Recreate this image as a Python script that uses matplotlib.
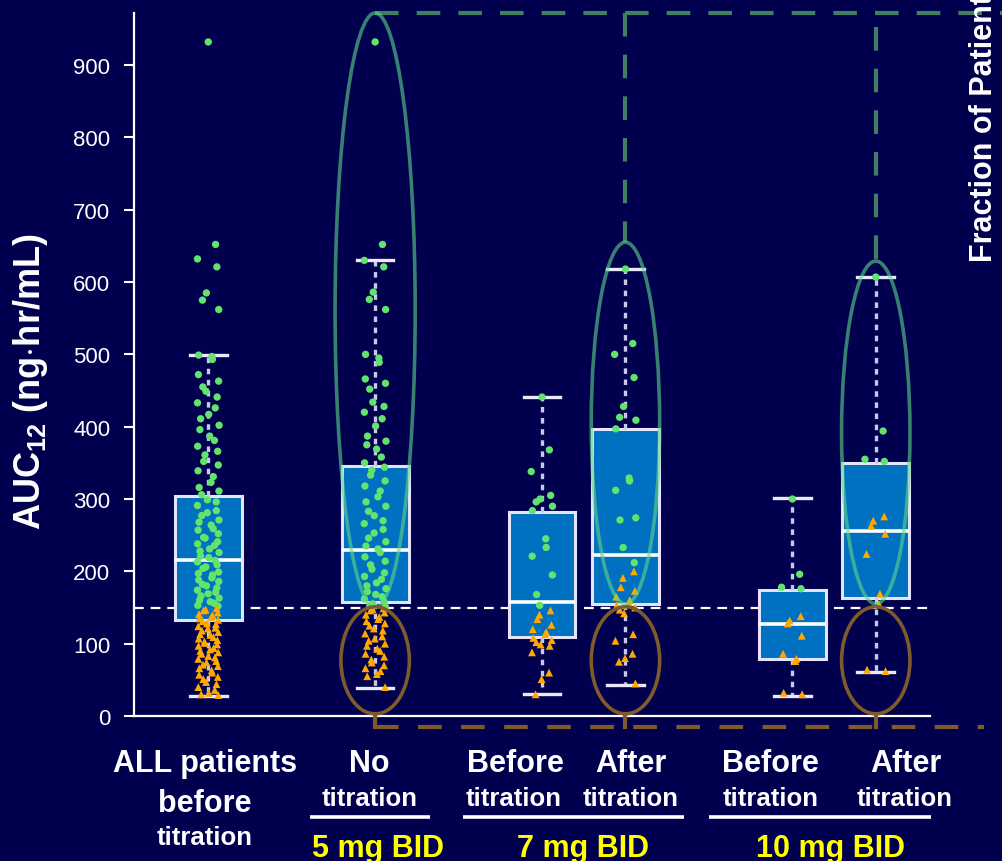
import numpy as np
import matplotlib
matplotlib.use("Agg")
import matplotlib.pyplot as plt
import matplotlib.transforms as mtransforms
from matplotlib.patches import Ellipse

# ---- data ----
groups = ["ALL", "No titration", "7 Before", "7 After", "10 Before", "10 After"]
positions = [0, 2, 4, 5, 7, 8]

box_lo = [28, 39, 30, 43, 28, 61]
box_q1 = [133, 157, 109, 155, 79, 163]
box_med = [216, 229, 157, 223, 127, 256]
box_q3 = [304, 346, 282, 397, 174, 350]
box_hi = [499, 630, 441, 618, 301, 607]

green_all = [932, 652, 632, 621, 585, 575, 562, 499, 497, 493, 472, 463, 455, 449, 441,
             433, 426, 417, 411, 402, 396, 387, 381, 373, 366, 361, 352, 347, 339, 331,
             323, 316, 311, 306, 299, 296, 291, 284, 281, 277, 271, 268, 264, 259, 257,
             252, 247, 246, 241, 238, 236, 231, 228, 226, 221, 219, 215, 213, 209, 206,
             204, 199, 197, 195, 191, 188, 186, 182, 180, 177, 174, 171, 169, 166, 163,
             160, 158, 156, 153, 152]
orange_all = [149, 147, 146, 143, 141, 139, 137, 135, 133, 131, 128, 127, 124, 122, 121,
              118, 116, 113, 112, 109, 107, 105, 103, 101, 99, 97, 94, 92, 90, 88, 86,
              83, 81, 79, 76, 74, 71, 69, 66, 63, 60, 57, 54, 51, 47, 44, 40, 36, 32, 30, 29]

green_not = [932, 652, 630, 621, 586, 576, 562, 500, 495, 489, 466, 460, 452, 434, 428,
             420, 411, 401, 387, 380, 375, 369, 358, 350, 344, 340, 333, 325, 318, 311,
             303, 296, 290, 283, 277, 270, 266, 258, 253, 246, 241, 235, 231, 226, 220,
             214, 209, 203, 198, 193, 189, 184, 180, 176, 172, 168, 165, 162, 158, 155,
             152, 151]
orange_not = [149, 148, 146, 143, 140, 137, 134, 131, 128, 125, 121, 118, 114, 110, 107,
              104, 100, 97, 93, 90, 86, 82, 78, 74, 70, 66, 62, 58, 55, 40]

green_7b = [441, 368, 338, 305, 300, 296, 290, 284, 245, 233, 221, 195, 168, 153]
orange_7b = [146, 140, 134, 126, 120, 116, 113, 108, 105, 102, 99, 97, 88, 60, 51, 30]

green_7a = [618, 515, 500, 468, 428, 413, 409, 397, 329, 325, 312, 274, 271, 233, 212]
orange_7a = [200, 191, 178, 173, 165, 160, 156, 153, 150, 147, 142, 113, 104, 86, 80, 75, 45]

green_10b = [300, 196, 178, 176]
orange_10b = [138, 132, 128, 111, 86, 79, 76, 32, 30]

green_10a = [607, 394, 355, 352]
orange_10a = [276, 270, 263, 252, 224, 169, 155, 64, 62]

greens = [green_all, green_not, green_7b, green_7a, green_10b, green_10a]
oranges = [orange_all, orange_not, orange_7b, orange_7a, orange_10b, orange_10a]

threshold = 150
yticks = [0, 100, 200, 300, 400, 500, 600, 700, 800, 900]

main_labels = ["ALL patients\nbefore", "No", "Before", "After", "Before", "After"]
sub_label = "titration"
dose_labels = ["5 mg BID", "7 mg BID", "10 mg BID"]

# ---- style ----
bg = "#00004f"
green_pt = "#62e46c"
orange_pt = "#ffa800"
box_blue = "#0070c0"
ell_green = "#5fd88a"
ell_brown = "#7e5a2c"
dash_green = "#3f7f62"

plt.rcParams["font.family"] = ["Liberation Sans", "DejaVu Sans"]
plt.rcParams["mathtext.fontset"] = "custom"
plt.rcParams["mathtext.rm"] = "Liberation Sans:bold"
plt.rcParams["mathtext.bf"] = "Liberation Sans:bold"
plt.rcParams["lines.scale_dashes"] = False

W, H = 1003, 862
fig = plt.figure(figsize=(W / 100, H / 100), dpi=100, facecolor=bg)
ax = fig.add_axes([134 / W, (H - 717) / H, (930 - 134) / W, (717 - 14) / H])
ax.set_facecolor(bg)
ax.set_xlim(-0.89, 8.65)
ax.set_ylim(0, 972)

# threshold line
ax.axhline(threshold, color="white", lw=1.6, dashes=(7, 5), zorder=1)

# boxes
stats = []
for i in range(len(groups)):
    stats.append(dict(med=box_med[i], q1=box_q1[i], q3=box_q3[i],
                      whislo=box_lo[i], whishi=box_hi[i], fliers=[]))
ax.bxp(stats, positions=positions, widths=0.8, patch_artist=True,
       showfliers=False, manage_ticks=False, capwidths=0.44,
       boxprops=dict(facecolor=box_blue, edgecolor="#e4e4ff", lw=2.2),
       medianprops=dict(color="white", lw=2.6),
       whiskerprops=dict(color="#c8c8ea", lw=2.4, dashes=(4, 4)),
       capprops=dict(color="#e8e8ff", lw=2.4), zorder=2)

# jittered points
for pos, g, o in zip(positions, greens, oranges):
    jg = 0.13 * np.sin(np.arange(len(g)) * 2.39996)
    jo = 0.12 * np.sin(np.arange(len(o)) * 2.39996 + 1.0)
    ax.scatter(pos + jg, g, s=28, color=green_pt, edgecolors="none", zorder=4)
    ax.scatter(pos + jo, o, s=32, marker="^", color=orange_pt, edgecolors="none", zorder=4)

# ellipses highlighting the subsets
green_ells = [(2, 561, 0.96, 822), (5, 405, 0.82, 500), (8, 392, 0.82, 474)]
for cx, cy, w, h in green_ells:
    ax.add_patch(Ellipse((cx, cy), w, h, fill=False, ec=ell_green, lw=2.6,
                         alpha=0.6, zorder=5, clip_on=False))
for cx in [2, 5, 8]:
    ax.add_patch(Ellipse((cx, 77), 0.82, 148, fill=False, ec=ell_brown, lw=2.6,
                         zorder=5, clip_on=False))

# connector dashed lines to the right-hand panel
ax.plot([2, 9.6], [972, 972], color=dash_green, lw=3, dashes=(17, 13), clip_on=False, zorder=3)
ax.plot([5, 5], [972, 655], color=dash_green, lw=3, dashes=(17, 13), clip_on=False, zorder=3)
ax.plot([8, 8], [952, 629], color=dash_green, lw=3, dashes=(17, 13), clip_on=False, zorder=3)
ax.plot([2, 9.3], [-15, -15], color=ell_brown, lw=3, dashes=(17, 14), clip_on=False, zorder=3)
for cx in [2, 5, 8]:
    ax.plot([cx, cx], [3, -15], color=ell_brown, lw=3, clip_on=False, zorder=3)

# axes styling
for s in ["top", "right"]:
    ax.spines[s].set_visible(False)
for s in ["left", "bottom"]:
    ax.spines[s].set_color("white")
    ax.spines[s].set_linewidth(1.6)
ax.set_xticks([])
ax.set_yticks(yticks)
ax.tick_params(axis="y", colors="white", length=7, width=1.5, pad=10, labelsize=16)

fig.text(31 / W, 1 - 382 / H, r"AUC$_{12}$ (ng$\cdot$hr/mL)", rotation=90, ha="center",
         va="center", color="white", fontsize=26, fontweight="bold")
fig.text(984 / W, 1 - 262 / H, "Fraction of Patients", rotation=90, ha="center",
         va="bottom", color="white", fontsize=22, fontweight="bold")

# category labels under the axis
tr = mtransforms.blended_transform_factory(ax.transData, fig.transFigure)
main_x = [-0.04, 1.93, 3.68, 5.07, 6.74, 8.36]
sub_x = [-0.04, 1.93, 3.66, 5.06, 6.74, 8.35]
for i in range(len(groups)):
    if i == 0:
        ax.text(main_x[i], 1 - 772 / H, "ALL patients", transform=tr, ha="center",
                va="baseline", color="white", fontsize=22, fontweight="bold")
        ax.text(main_x[i], 1 - 812 / H, "before", transform=tr, ha="center",
                va="baseline", color="white", fontsize=22, fontweight="bold")
        ax.text(sub_x[i], 1 - 845 / H, sub_label, transform=tr, ha="center",
                va="baseline", color="white", fontsize=18.5, fontweight="bold")
    else:
        ax.text(main_x[i], 1 - 772 / H, main_labels[i], transform=tr, ha="center",
                va="baseline", color="white", fontsize=22, fontweight="bold")
        ax.text(sub_x[i], 1 - 806 / H, sub_label, transform=tr, ha="center",
                va="baseline", color="white", fontsize=18.5, fontweight="bold")

dose_x = [2.04, 4.49, 7.46]
underline = [(1.22, 2.66), (3.05, 5.70), (6.00, 8.66)]
for lab, dx, (u0, u1) in zip(dose_labels, dose_x, underline):
    ax.plot([u0, u1], [1 - 818 / H] * 2, transform=tr, color="white", lw=2.6,
            clip_on=False, solid_capstyle="butt")
    ax.text(dx, 1 - 857 / H, lab, transform=tr, ha="center", va="baseline",
            color="#ffff00", fontsize=22, fontweight="bold")

fig.savefig("out.png", dpi=100, facecolor=bg)
